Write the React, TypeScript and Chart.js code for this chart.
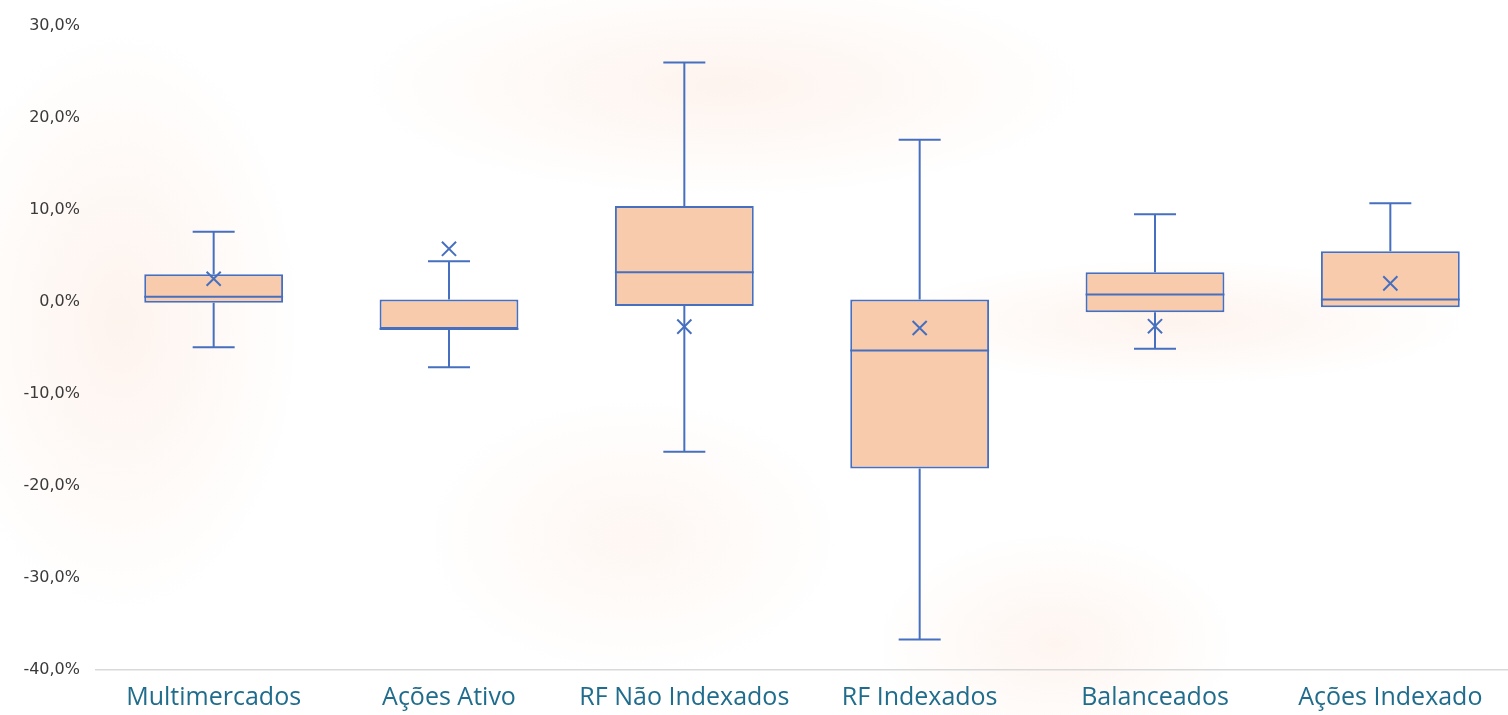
import React, { useEffect, useRef } from "react";
import { Chart, registerables } from "chart.js";

Chart.register(...registerables);

const categories = [
  "Multimercados",
  "Ações Ativo",
  "RF Não Indexados",
  "RF Indexados",
  "Balanceados",
  "Ações Indexado",
];
const whiskerMax = [7.6, 4.4, 26.0, 17.6, 9.5, 10.7];
const q3 = [3.0, 0.25, 10.4, 0.25, 3.2, 5.5];
const medians = [0.55, -2.95, 3.2, -5.3, 0.8, 0.25];
const q1 = [-0.1, -2.95, -0.45, -18.1, -1.15, -0.6];
const whiskerMin = [-4.95, -7.1, -16.3, -36.7, -5.1, -0.6];
const means = [2.5, 5.75, -2.7, -2.85, -2.65, 2.0];

const yMin = -40;
const yMax = 30;
const yStep = 10;

const BLUE = "#4670BF";
const FILL = "#F8CBAD";

const boxPlugin = {
  id: "boxWhiskers",
  afterDatasetsDraw(chart: any) {
    const meta = chart.getDatasetMeta(0);
    const y = chart.scales.y;
    const ctx = chart.ctx;
    ctx.save();
    ctx.strokeStyle = BLUE;
    ctx.lineWidth = 2;
    meta.data.forEach((bar: any, i: number) => {
      const cx = bar.x;
      const half = bar.width / 2;
      const capHalf = 21;
      const yTop = y.getPixelForValue(q3[i]);
      const yBot = y.getPixelForValue(q1[i]);
      const yMaxP = y.getPixelForValue(whiskerMax[i]);
      const yMinP = y.getPixelForValue(whiskerMin[i]);
      const yMed = y.getPixelForValue(medians[i]);
      ctx.beginPath();
      if (whiskerMax[i] > q3[i]) {
        ctx.moveTo(cx, yTop);
        ctx.lineTo(cx, yMaxP);
        ctx.moveTo(cx - capHalf, yMaxP);
        ctx.lineTo(cx + capHalf, yMaxP);
      }
      if (whiskerMin[i] < q1[i]) {
        ctx.moveTo(cx, yBot);
        ctx.lineTo(cx, yMinP);
        ctx.moveTo(cx - capHalf, yMinP);
        ctx.lineTo(cx + capHalf, yMinP);
      }
      ctx.moveTo(cx - half, yMed);
      ctx.lineTo(cx + half, yMed);
      ctx.stroke();
    });
    ctx.restore();
  },
};

export default function App() {
  const ref = useRef<HTMLCanvasElement>(null);

  useEffect(() => {
    document.body.style.margin = "0";
    const canvas = ref.current!;
    const chart = new Chart(canvas, {
      type: "bar",
      data: {
        labels: categories,
        datasets: [
          {
            type: "bar",
            data: categories.map((_, i) => [q1[i], q3[i]]) as any,
            backgroundColor: FILL,
            borderColor: BLUE,
            borderWidth: 2,
            borderSkipped: false,
            categoryPercentage: 1,
            barPercentage: 0.59,
            order: 2,
          } as any,
          {
            type: "line",
            data: means,
            showLine: false,
            pointStyle: "crossRot",
            pointRadius: 10,
            pointBorderColor: BLUE,
            pointBorderWidth: 2,
            pointBackgroundColor: BLUE,
            order: 1,
          } as any,
        ],
      },
      options: {
        responsive: false,
        animation: false,
        devicePixelRatio: 1,
        layout: { autoPadding: false, padding: { top: 21, right: 0, left: 0, bottom: 0 } },
        plugins: {
          legend: { display: false },
          tooltip: { enabled: false },
        },
        scales: {
          x: {
            grid: { display: false, drawTicks: false },
            border: { display: true, color: "#D9D9D9", width: 1.5 },
            ticks: {
              color: "#1F6C8C",
              font: { family: "Open Sans", size: 25 },
              padding: 13,
              maxRotation: 0,
              autoSkip: false,
            },
            afterFit(scale: any) {
              scale.height = 45;
              scale.paddingLeft = 0;
              scale.paddingRight = 0;
            },
          },
          y: {
            min: yMin,
            max: yMax,
            grid: { display: false, drawTicks: false },
            border: { display: false },
            ticks: {
              stepSize: yStep,
              color: "#3A3A3A",
              font: { family: "DejaVu Sans", size: 16 },
              padding: 16,
              callback: (v: any) => Number(v).toFixed(1).replace(".", ",") + "%",
            },
            afterFit(scale: any) {
              scale.width = 96;
            },
          },
        },
      },
      plugins: [boxPlugin],
    });
    return () => chart.destroy();
  }, []);

  return (
    <div
      style={{
        width: 1508,
        height: 715,
        position: "relative",
        background:
          "radial-gradient(ellipse 260px 420px at 8% 45%, rgba(252,222,206,0.35), rgba(255,255,255,0) 70%)," +
          "radial-gradient(ellipse 520px 160px at 48% 12%, rgba(252,222,206,0.35), rgba(255,255,255,0) 70%)," +
          "radial-gradient(ellipse 420px 90px at 78% 45%, rgba(252,222,206,0.35), rgba(255,255,255,0) 70%)," +
          "radial-gradient(ellipse 300px 200px at 42% 75%, rgba(252,222,206,0.25), rgba(255,255,255,0) 70%)," +
          "radial-gradient(ellipse 260px 160px at 70% 90%, rgba(252,222,206,0.3), rgba(255,255,255,0) 70%)," +
          "#FFFFFF",
      }}
    >
      <canvas ref={ref} width={1508} height={715} style={{ display: "block" }} />
    </div>
  );
}
